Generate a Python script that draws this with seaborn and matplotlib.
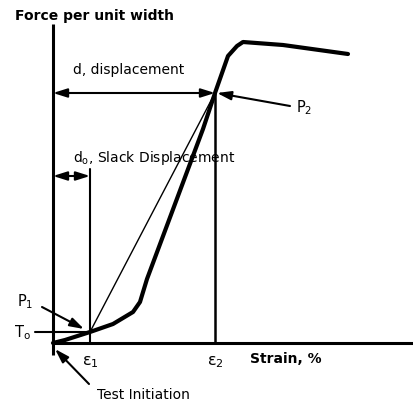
import matplotlib
matplotlib.use("Agg")
import matplotlib.pyplot as plt
import seaborn as sns
import numpy as np
import pandas as pd

# load-strain curve (strain, force) in drawing units, origin at test initiation
strain = [0, 12, 37, 60, 80, 87, 94, 150, 162, 175, 184, 190, 230, 295]
force = [0, 3, 11, 19, 31, 41, 64, 214, 250, 287, 297, 301, 298, 289]

# reference points
eps1, To = 37, 11          # P1
eps2, P2f = 162, 250       # P2
y_top, y_bot = 319, -12    # force axis extent
x_right = 360

sns.set_style("white")
plt.rcParams['font.family'] = ['DejaVu Sans']
plt.rcParams['text.color'] = 'black'

fig = plt.figure(figsize=(4.13, 4.06), dpi=100)
ax = fig.add_axes([0, 0, 1, 1])
ax.set_xlim(-53, 360)
ax.set_ylim(-62, 344)
ax.axis('off')

# axes
ax.plot([0, 0], [y_bot, y_top], color='black', lw=2.2, solid_capstyle='butt')
ax.plot([0, x_right], [0, 0], color='black', lw=2.2, solid_capstyle='butt')

# strain markers
ax.plot([eps1, eps1], [0, 174], color='black', lw=1.5)
ax.plot([eps2, eps2], [0, P2f], color='black', lw=1.8)

# secant line
ax.plot([eps1, eps2], [To, P2f], color='black', lw=1.0)

# curve
df = pd.DataFrame({'strain': strain, 'force': force})
sns.lineplot(data=df, x='strain', y='force', sort=False, color='black', lw=3.0,
             ax=ax, solid_joinstyle='round')

# T_o line
ax.plot([-18, eps1], [To, To], color='black', lw=1.5)

arrow2 = dict(arrowstyle='<|-|>,head_length=0.7,head_width=0.22', color='black',
              lw=1.5, mutation_scale=12, shrinkA=0, shrinkB=0)
arrow1 = dict(arrowstyle='-|>,head_length=0.7,head_width=0.22', color='black',
              lw=1.5, mutation_scale=12, shrinkA=0, shrinkB=0)

# d, displacement
ax.annotate('', xy=(0, P2f), xytext=(eps2, P2f), arrowprops=arrow2)
ax.text(20, 274, 'd, displacement', fontsize=10, va='center', ha='left')

# d_o, slack displacement
ax.annotate('', xy=(0, 167), xytext=(eps1, 167), arrowprops=arrow2)
ax.text(20, 186, r'd$_\mathrm{o}$, Slack Displacement', fontsize=10,
        va='center', ha='left')

# P2
ax.annotate('', xy=(eps2 + 2, P2f), xytext=(237, 237), arrowprops=arrow1)
ax.text(243, 236, r'P$_2$', fontsize=10.5, va='center', ha='left')

# P1
ax.annotate('', xy=(eps1 - 6, To + 3), xytext=(-11, 36), arrowprops=arrow1)
ax.text(-36, 42, r'P$_1$', fontsize=10.5, va='center', ha='left')
ax.text(-39, To, r'T$_\mathrm{o}$', fontsize=10.5, va='center', ha='left')

# test initiation
ax.annotate('', xy=(2, -6), xytext=(36, -41), arrowprops=arrow1)
ax.text(44, -51, 'Test Initiation', fontsize=10, va='center', ha='left')

# strain labels
ax.text(eps1, -18, r'ε$_1$', fontsize=11.5, va='center', ha='center')
ax.text(eps2, -18, r'ε$_2$', fontsize=11.5, va='center', ha='center')
ax.text(197, -15, 'Strain, %', fontsize=10, fontweight='bold', va='center', ha='left')
ax.text(-38, 328, 'Force per unit width', fontsize=10, fontweight='bold',
        va='center', ha='left')

fig.savefig('out.png', dpi=100)
